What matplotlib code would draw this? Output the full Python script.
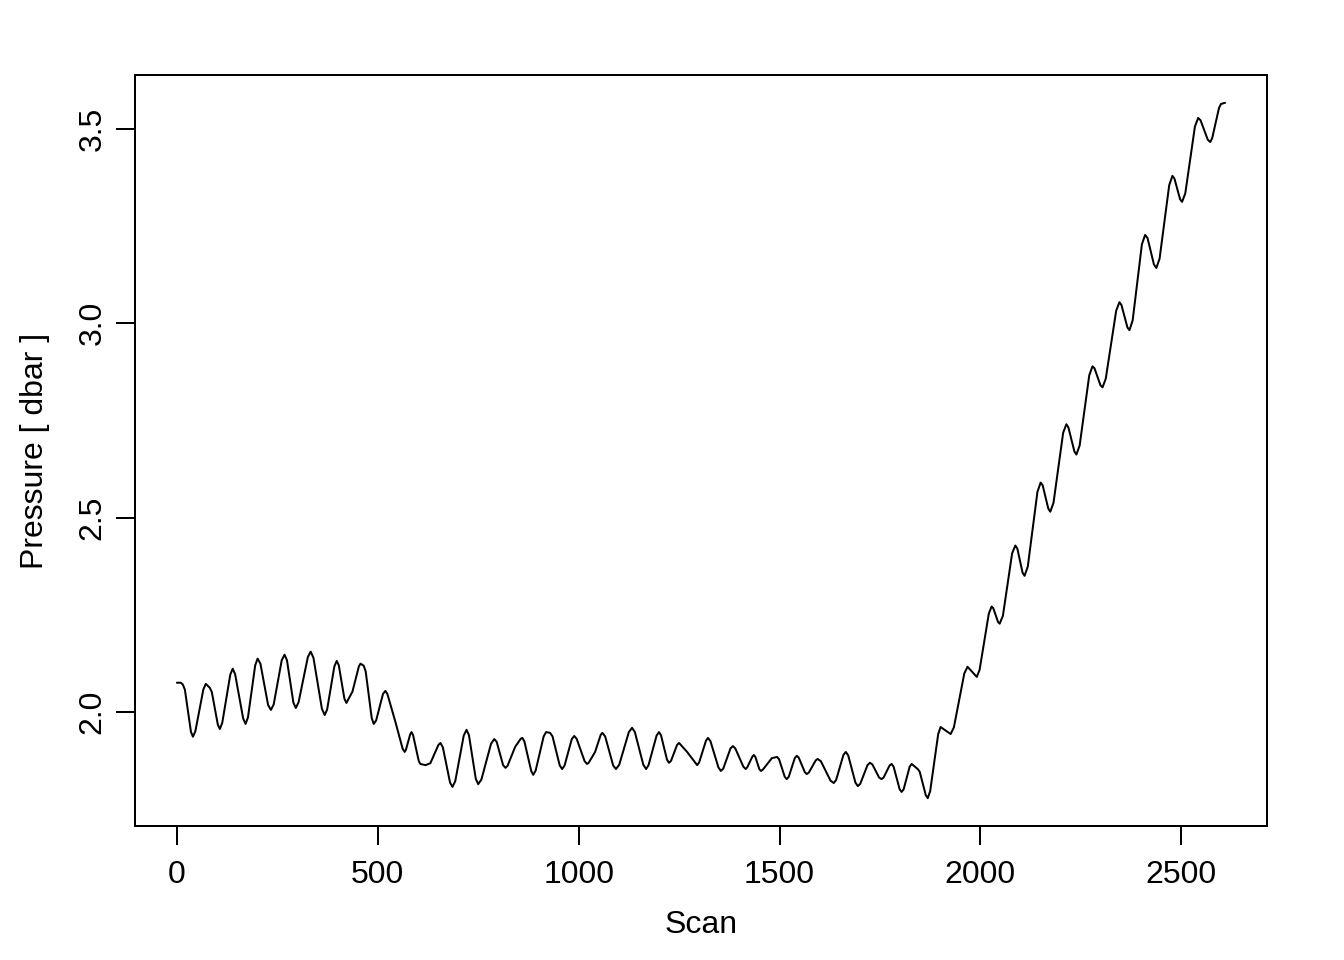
import numpy as np
import matplotlib.pyplot as plt

plt.rcParams['font.family'] = ['Liberation Sans', 'DejaVu Sans']

# scan number and pressure
scan = [0, 10, 15, 20, 35, 40, 46, 66, 72, 82, 87, 102, 107, 113, 133, 139,
        145, 165, 171, 177, 195, 201, 208, 227, 234, 241, 261, 268, 274, 290,
        296, 303, 326, 333, 340, 361, 368, 374, 392, 398, 403, 417, 422, 437,
        453, 457, 465, 470, 485, 490, 496, 513, 519, 524, 544, 562, 567, 570,
        581, 584, 588, 602, 606, 619, 631, 651, 656, 662, 680, 686, 693, 714,
        721, 727, 744, 750, 758, 782, 790, 796, 812, 818, 823, 842, 856, 860,
        865, 882, 887, 893, 913, 919, 929, 935, 953, 959, 965, 983, 989, 995,
        1015, 1021, 1025, 1041, 1055, 1059, 1066, 1086, 1093, 1101, 1125, 1133,
        1140, 1161, 1168, 1174, 1194, 1200, 1205, 1220, 1225, 1230, 1245, 1250,
        1270, 1295, 1300, 1317, 1322, 1328, 1348, 1354, 1360, 1378, 1384, 1390,
        1410, 1416, 1420, 1432, 1436, 1440, 1450, 1454, 1459, 1481, 1494, 1499,
        1513, 1518, 1523, 1538, 1543, 1548, 1563, 1568, 1573, 1590, 1595, 1603,
        1627, 1635, 1641, 1659, 1665, 1671, 1689, 1695, 1701, 1719, 1725, 1731,
        1748, 1754, 1759, 1774, 1779, 1784, 1799, 1804, 1809, 1824, 1829, 1844,
        1849, 1864, 1869, 1875, 1895, 1901, 1926, 1934, 1960, 1968, 1991, 1998,
        2021, 2028, 2032, 2044, 2048, 2056, 2079, 2087, 2092, 2105, 2110, 2118,
        2142, 2150, 2155, 2169, 2174, 2182, 2206, 2214, 2219, 2234, 2239, 2247,
        2271, 2279, 2284, 2299, 2304, 2312, 2338, 2346, 2351, 2366, 2371, 2379,
        2402, 2410, 2416, 2432, 2438, 2446, 2470, 2478, 2483, 2497, 2502, 2510,
        2534, 2542, 2548, 2566, 2572, 2577, 2594, 2599, 2609]
pressure = [2.075, 2.075, 2.070, 2.057, 1.949, 1.936, 1.950, 2.058, 2.072, 2.062,
            2.051, 1.967, 1.956, 1.972, 2.096, 2.111, 2.097, 1.983, 1.969, 1.986,
            2.120, 2.137, 2.124, 2.018, 2.005, 2.019, 2.133, 2.147, 2.133, 2.024,
            2.010, 2.025, 2.141, 2.155, 2.139, 2.008, 1.992, 2.006, 2.117, 2.131,
            2.120, 2.034, 2.023, 2.052, 2.117, 2.124, 2.119, 2.104, 1.984, 1.969,
            1.978, 2.046, 2.054, 2.046, 1.974, 1.905, 1.897, 1.902, 1.943, 1.948,
            1.940, 1.874, 1.866, 1.863, 1.868, 1.915, 1.920, 1.909, 1.818, 1.807,
            1.822, 1.939, 1.954, 1.940, 1.828, 1.814, 1.826, 1.918, 1.930, 1.923,
            1.863, 1.856, 1.861, 1.910, 1.931, 1.933, 1.924, 1.848, 1.838, 1.849,
            1.937, 1.948, 1.946, 1.937, 1.862, 1.853, 1.862, 1.930, 1.938, 1.931,
            1.873, 1.866, 1.869, 1.897, 1.941, 1.946, 1.937, 1.862, 1.853, 1.864,
            1.948, 1.959, 1.948, 1.864, 1.853, 1.863, 1.939, 1.948, 1.940, 1.877,
            1.869, 1.874, 1.915, 1.920, 1.897, 1.863, 1.870, 1.926, 1.933, 1.925,
            1.857, 1.848, 1.854, 1.906, 1.912, 1.906, 1.859, 1.853, 1.858, 1.884,
            1.889, 1.884, 1.852, 1.848, 1.852, 1.881, 1.884, 1.878, 1.833, 1.827,
            1.833, 1.881, 1.887, 1.882, 1.845, 1.840, 1.844, 1.875, 1.879, 1.873,
            1.823, 1.817, 1.825, 1.889, 1.897, 1.888, 1.818, 1.809, 1.815, 1.863,
            1.869, 1.865, 1.831, 1.827, 1.831, 1.862, 1.866, 1.859, 1.801, 1.794,
            1.801, 1.859, 1.866, 1.853, 1.846, 1.786, 1.778, 1.796, 1.943, 1.961,
            1.943, 1.960, 2.099, 2.116, 2.090, 2.108, 2.253, 2.271, 2.267, 2.231,
            2.227, 2.247, 2.408, 2.428, 2.420, 2.358, 2.350, 2.374, 2.566, 2.590,
            2.583, 2.523, 2.515, 2.538, 2.718, 2.740, 2.732, 2.670, 2.662, 2.685,
            2.866, 2.889, 2.884, 2.840, 2.835, 2.857, 3.032, 3.054, 3.047, 2.989,
            2.982, 3.007, 3.203, 3.227, 3.219, 3.151, 3.142, 3.166, 3.355, 3.379,
            3.372, 3.319, 3.312, 3.334, 3.506, 3.528, 3.522, 3.472, 3.466, 3.476,
            3.554, 3.564, 3.567]
assert len(scan) == len(pressure)

xticks = [0, 500, 1000, 1500, 2000, 2500]
yticks = [2.0, 2.5, 3.0, 3.5]

fig = plt.figure(figsize=(13.44, 9.6), dpi=100)
ax = fig.add_axes([0.1004, 0.1396, 0.8423, 0.7823])
ax.plot(scan, pressure, color='black', lw=1.44,
        solid_joinstyle='round', solid_capstyle='round')

xr = max(scan) - min(scan)
yr = max(pressure) - min(pressure)
ax.set_xlim(min(scan) - 0.04 * xr, max(scan) + 0.04 * xr)
ax.set_ylim(min(pressure) - 0.04 * yr, max(pressure) + 0.04 * yr)

ax.set_xticks(xticks)
ax.set_yticks(yticks)
ax.set_yticklabels(['%.1f' % v for v in yticks], rotation=90, va='center')
ax.tick_params(axis='both', direction='out', length=13.7, width=1.44,
               labelsize=23)
ax.tick_params(axis='x', pad=11)
ax.tick_params(axis='y', pad=6)
for s in ax.spines.values():
    s.set_linewidth(1.44)

ax.set_xlabel('Scan', fontsize=23, labelpad=14)
ax.set_ylabel('Pressure [ dbar ]', fontsize=23, labelpad=20)

fig.savefig('out.png', dpi=100)
